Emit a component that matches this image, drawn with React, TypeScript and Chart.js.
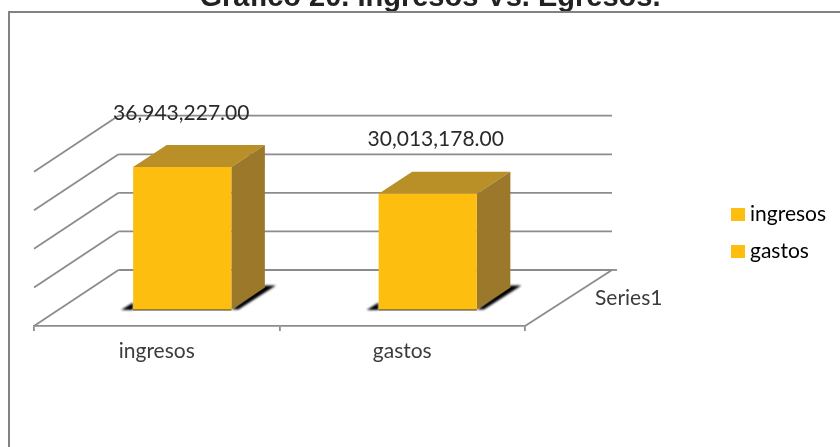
import React, { useEffect, useRef } from "react";
import { Chart, registerables } from "chart.js";

Chart.register(...registerables);

const categories = ["ingresos", "gastos"];
const values = [36943227, 30013178];
const seriesName = "Series1";
const titleText = "Gráfico 20. Ingresos Vs. Egresos.";
const axisMax = 40000000;
const axisStep = 10000000;
const labelNudgeX = [-1, 8];

const FRONT = "#FDBE10";
const TOP = "#B98F27";
const SIDE = "#9B782A";
const GRID = "#8C8C8C";
const FRAME = "#828282";
const FONT = "Lato";

const WALL = { l: 84.5, r: 87, y: -56 };
const BASE = { x: 25.5, y: -16.5 };
const DEPTH = { x: 33.5, y: -22 };

const poly = (ctx: CanvasRenderingContext2D, pts: number[][], fill: string) => {
  ctx.beginPath();
  pts.forEach((p, i) => (i ? ctx.lineTo(p[0], p[1]) : ctx.moveTo(p[0], p[1])));
  ctx.closePath();
  ctx.fillStyle = fill;
  ctx.fill();
};
const seg = (ctx: CanvasRenderingContext2D, a: number, b: number, c: number, d: number) => {
  ctx.beginPath();
  ctx.moveTo(a, b);
  ctx.lineTo(c, d);
  ctx.stroke();
};

const scene = {
  id: "scene",
  afterLayout(chart: any) {
    const t = chart.titleBlock;
    t.left = 0;
    t.right = 860;
    t.top = -19;
    const l = chart.legend;
    l.left = 720.5;
    l.right = 840;
    l.top = 188;
    l.bottom = 447;
  },
  beforeDatasetsDraw(chart: any) {
    const { ctx, scales } = chart;
    const x = scales.x;
    const y = scales.y;
    ctx.save();
    ctx.strokeStyle = FRAME;
    ctx.lineWidth = 2;
    ctx.beginPath();
    ctx.moveTo(9, 447);
    ctx.lineTo(9, 12);
    ctx.lineTo(840, 12);
    ctx.stroke();

    ctx.strokeStyle = GRID;
    ctx.lineWidth = 1.8;
    y.ticks.forEach((t: any) => {
      const py = y.getPixelForValue(t.value);
      seg(ctx, x.left, py, x.left + WALL.l, py + WALL.y);
      seg(ctx, x.left + WALL.l, py + WALL.y, x.right + WALL.r, py + WALL.y);
    });
    const floor = y.getPixelForValue(0);
    seg(ctx, x.right, floor, x.right + WALL.r, floor + WALL.y);
    seg(ctx, x.right + WALL.r, floor + WALL.y, x.right + WALL.r + 5, floor + WALL.y);

    ctx.fillStyle = "#3c3c3c";
    ctx.font = `21px ${FONT}`;
    ctx.textAlign = "left";
    ctx.textBaseline = "middle";
    ctx.fillText(seriesName, x.right + 70, floor - 28);

    const meta = chart.getDatasetMeta(0);
    meta.data.forEach((bar: any) => {
      const left = bar.x - bar.width / 2 + BASE.x;
      const right = bar.x + bar.width / 2 + BASE.x;
      const bottom = bar.base + BASE.y;
      const top = bar.y + BASE.y;
      ctx.save();
      ctx.filter = "blur(0.8px)";
      poly(ctx, [[right, bottom], [right + DEPTH.x, bottom + DEPTH.y - 2], [right + DEPTH.x + 11, bottom + DEPTH.y - 2], [right + 7, bottom]], "#000");
      poly(ctx, [[left - 12, bottom + 0.5], [left, bottom - 7], [left, bottom + 0.5]], "#000");
      ctx.restore();
      ctx.fillStyle = "#3a3a2a";
      ctx.fillRect(left, bottom - 0.5, bar.width, 1.5);
      poly(ctx, [[left, top], [left + DEPTH.x, top + DEPTH.y], [right + DEPTH.x, top + DEPTH.y], [right, top]], TOP);
      poly(ctx, [[right, top], [right + DEPTH.x, top + DEPTH.y], [right + DEPTH.x, bottom + DEPTH.y], [right, bottom]], SIDE);
    });
    ctx.restore();
  },
  beforeDatasetDraw(chart: any) {
    chart.ctx.save();
    chart.ctx.translate(BASE.x, BASE.y);
  },
  afterDatasetDraw(chart: any) {
    chart.ctx.restore();
  },
  afterDatasetsDraw(chart: any) {
    const { ctx } = chart;
    ctx.save();
    ctx.fillStyle = "#2a2a2a";
    ctx.font = `21px ${FONT}`;
    ctx.textAlign = "center";
    ctx.textBaseline = "middle";
    chart.getDatasetMeta(0).data.forEach((bar: any, i: number) => {
      const s = values[i].toLocaleString("en-US", { minimumFractionDigits: 2, maximumFractionDigits: 2 });
      ctx.fillText(s, bar.x + BASE.x + labelNudgeX[i], bar.y + BASE.y + DEPTH.y - 32);
    });
    ctx.restore();
  },
};

export default function App() {
  const ref = useRef<HTMLCanvasElement>(null);
  useEffect(() => {
    const chart = new Chart(ref.current!, {
      type: "bar",
      data: {
        labels: categories,
        datasets: [
          {
            label: seriesName,
            data: values,
            backgroundColor: [FRONT, FRONT],
            barPercentage: 0.4,
            categoryPercentage: 1,
            clip: false,
          } as any,
        ],
      },
      options: {
        responsive: false,
        animation: false,
        layout: { padding: { left: 34, right: 315, top: 136.9, bottom: 0 } },
        plugins: {
          tooltip: { enabled: false },
          title: {
            display: true,
            text: titleText,
            color: "#222222",
            padding: 0,
            font: { family: "Liberation Sans", size: 29, weight: "bold", lineHeight: 1.2 },
          },
          legend: {
            position: "chartArea" as any,
            align: "start",
            labels: {
              boxWidth: 3,
              boxHeight: 2,
              padding: 16,
              color: "#2a2a2a",
              font: { family: FONT, size: 21 },
              generateLabels: () =>
                categories.map((c, i) => ({
                  text: c,
                  fillStyle: FRONT,
                  strokeStyle: FRONT,
                  lineWidth: 11,
                  datasetIndex: 0,
                  index: i,
                })),
            },
          },
        },
        scales: {
          x: {
            grid: { drawOnChartArea: false, color: GRID, tickLength: 5, lineWidth: 1.8 },
            border: { color: GRID, width: 1.8 },
            ticks: {
              color: "#3c3c3c",
              padding: 8,
              autoSkip: false,
              maxRotation: 0,
              font: { family: FONT, size: 21 },
            },
            afterFit: (s: any) => {
              s.height = 121;
            },
          },
          y: {
            display: false,
            min: 0,
            max: axisMax,
            ticks: { stepSize: axisStep },
          },
        },
      },
      plugins: [scene],
    } as any);
    return () => chart.destroy();
  }, []);
  return (
    <div style={{ position: "absolute", left: 0, top: 0 }}>
      <canvas ref={ref} width={840} height={447} style={{ display: "block" }} />
    </div>
  );
}
